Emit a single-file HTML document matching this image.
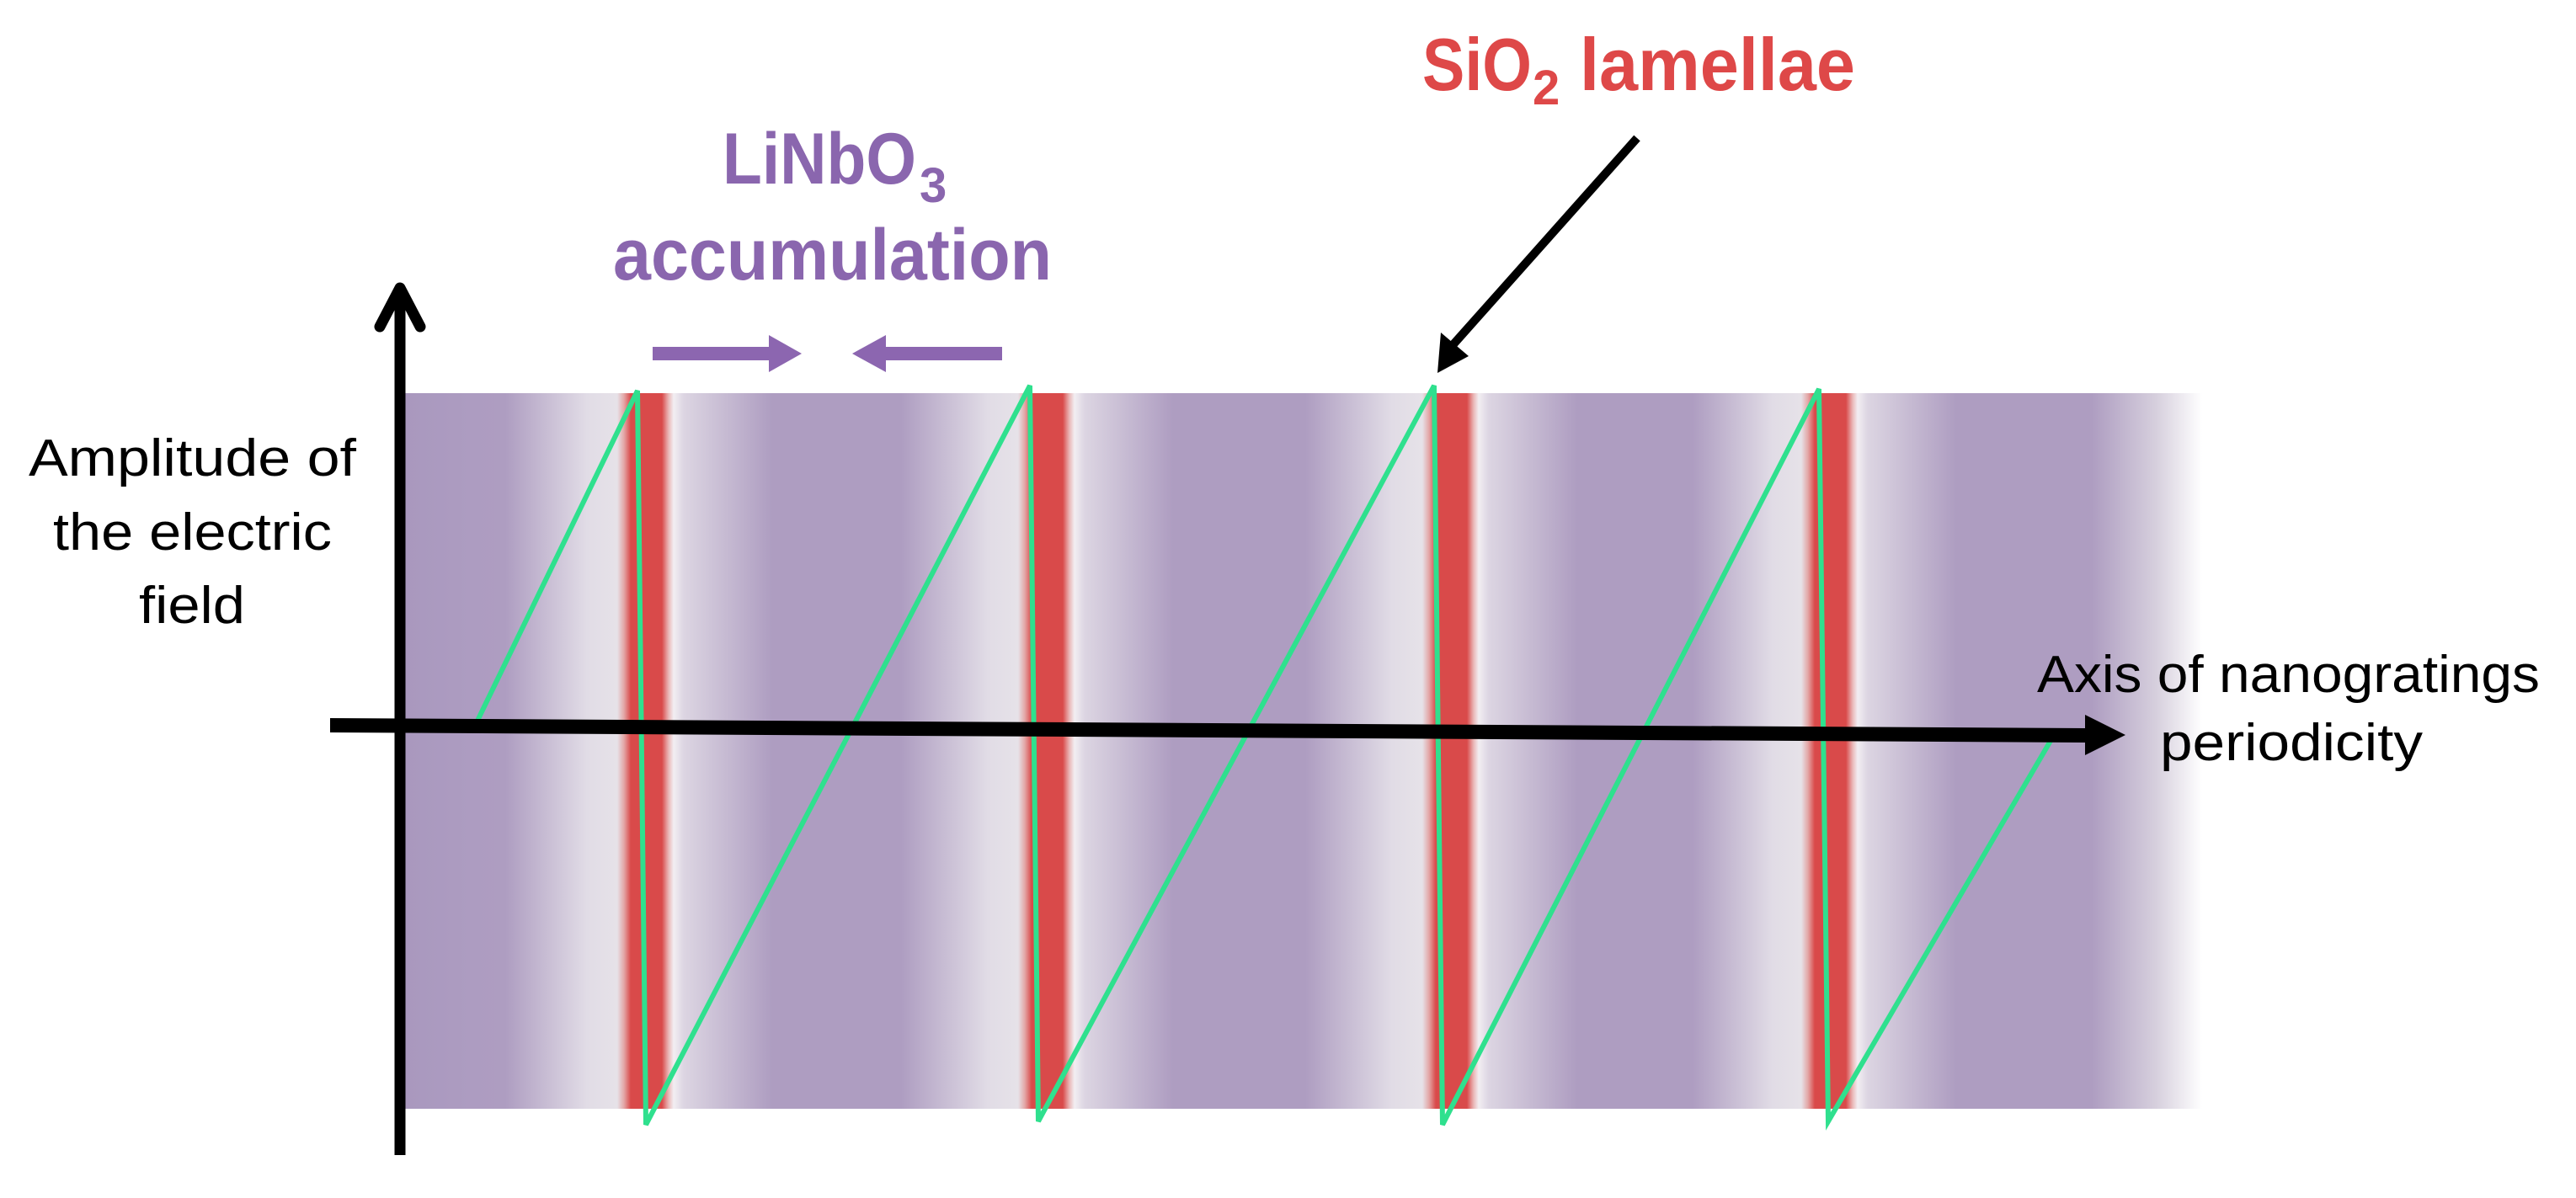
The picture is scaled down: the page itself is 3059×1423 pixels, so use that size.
<!DOCTYPE html>
<html><head><meta charset="utf-8"><style>
html,body{margin:0;padding:0;background:#fff;}
svg{display:block;}
</style></head><body>
<svg width="3059" height="1423" viewBox="0 0 3059 1423" xmlns="http://www.w3.org/2000/svg">
<defs>
<linearGradient id="band" gradientUnits="userSpaceOnUse" x1="0" y1="0" x2="10000" y2="0">
<stop offset="0.0480" stop-color="#a998be"/>
<stop offset="0.0560" stop-color="#ad9cc1"/>
<stop offset="0.0600" stop-color="#ae9dc1"/>
<stop offset="0.0697" stop-color="#e1dce6"/>
<stop offset="0.0733" stop-color="#e6e2e8"/>
<stop offset="0.0741" stop-color="#e3a6a6"/>
<stop offset="0.0749" stop-color="#d94a4a"/>
<stop offset="0.0786" stop-color="#d94a4a"/>
<stop offset="0.0794" stop-color="#eab8b8"/>
<stop offset="0.0800" stop-color="#f2eef2"/>
<stop offset="0.0812" stop-color="#dcd5e2"/>
<stop offset="0.0917" stop-color="#ae9dc1"/>
<stop offset="0.1070" stop-color="#ae9dc1"/>
<stop offset="0.1173" stop-color="#e1dce6"/>
<stop offset="0.1209" stop-color="#e6e2e8"/>
<stop offset="0.1217" stop-color="#e3a6a6"/>
<stop offset="0.1225" stop-color="#d94a4a"/>
<stop offset="0.1262" stop-color="#d94a4a"/>
<stop offset="0.1270" stop-color="#eab8b8"/>
<stop offset="0.1276" stop-color="#f2eef2"/>
<stop offset="0.1288" stop-color="#dcd5e2"/>
<stop offset="0.1393" stop-color="#ae9dc1"/>
<stop offset="0.1550" stop-color="#ae9dc1"/>
<stop offset="0.1653" stop-color="#e1dce6"/>
<stop offset="0.1689" stop-color="#e6e2e8"/>
<stop offset="0.1697" stop-color="#e3a6a6"/>
<stop offset="0.1705" stop-color="#d94a4a"/>
<stop offset="0.1742" stop-color="#d94a4a"/>
<stop offset="0.1750" stop-color="#eab8b8"/>
<stop offset="0.1756" stop-color="#f2eef2"/>
<stop offset="0.1768" stop-color="#dcd5e2"/>
<stop offset="0.1873" stop-color="#ae9dc1"/>
<stop offset="0.2010" stop-color="#ae9dc1"/>
<stop offset="0.2105" stop-color="#e1dce6"/>
<stop offset="0.2139" stop-color="#e6e2e8"/>
<stop offset="0.2147" stop-color="#e3a6a6"/>
<stop offset="0.2155" stop-color="#d94a4a"/>
<stop offset="0.2192" stop-color="#d94a4a"/>
<stop offset="0.2200" stop-color="#eab8b8"/>
<stop offset="0.2206" stop-color="#f2eef2"/>
<stop offset="0.2218" stop-color="#dcd5e2"/>
<stop offset="0.2323" stop-color="#ae9dc1"/>
<stop offset="0.2484" stop-color="#ae9dc1"/>
<stop offset="0.2560" stop-color="#d6cfdd"/>
<stop offset="0.2615" stop-color="#ffffff"/>
</linearGradient>
</defs>

<rect x="480" y="467" width="2135" height="850" fill="url(#band)"/>

<polyline points="566,858 757,464 767,1336 1223,458 1233,1332 1703,458 1713,1336 2160,462 2171,1332 2435,880" fill="none" stroke="#2fe08e" stroke-width="6" stroke-linejoin="miter"/>

<line x1="475" y1="1372" x2="475" y2="342" stroke="#000" stroke-width="13"/>
<polyline points="451,388 475,342 499,388" fill="none" stroke="#000" stroke-width="13" stroke-linecap="round" stroke-linejoin="round"/>

<polygon points="392,853 2478,865 2478,882 392,870" fill="#000"/>
<polygon points="2476,849 2524,873 2476,897" fill="#000"/>

<rect x="775" y="412" width="140" height="16" fill="#8c66b0"/>
<polygon points="913,398 952,420 913,442" fill="#8c66b0"/>
<rect x="1050" y="412" width="140" height="16" fill="#8c66b0"/>
<polygon points="1052,398 1012,420 1052,442" fill="#8c66b0"/>

<line x1="1944" y1="164" x2="1725" y2="410" stroke="#000" stroke-width="10"/>
<polygon points="1707,443 1711,395 1744,423" fill="#000"/>

<g font-family="Liberation Sans, sans-serif" fill="#000" font-size="62">
<text x="34" y="565" textLength="389" lengthAdjust="spacingAndGlyphs">Amplitude of</text>
<text x="63" y="653" textLength="331" lengthAdjust="spacingAndGlyphs">the electric</text>
<text x="165" y="740" textLength="126" lengthAdjust="spacingAndGlyphs">field</text>
<text x="2419" y="822" textLength="597" lengthAdjust="spacingAndGlyphs">Axis of nanogratings</text>
<text x="2565" y="903" textLength="312" lengthAdjust="spacingAndGlyphs">periodicity</text>
</g>
<g font-family="Liberation Sans, sans-serif" font-weight="bold" fill="#8a66ae">
<text x="858" y="218" font-size="86" textLength="230" lengthAdjust="spacingAndGlyphs">LiNbO</text>
<text x="1092" y="240" font-size="58">3</text>
<text x="728" y="332" font-size="86" textLength="521" lengthAdjust="spacingAndGlyphs">accumulation</text>
</g>
<g font-family="Liberation Sans, sans-serif" font-weight="bold" fill="#de4848">
<text x="1689" y="107" font-size="88" textLength="130" lengthAdjust="spacingAndGlyphs">SiO</text>
<text x="1820" y="124" font-size="58">2</text>
<text x="1876" y="107" font-size="88" textLength="327" lengthAdjust="spacingAndGlyphs">lamellae</text>
</g>
</svg>
</body></html>
